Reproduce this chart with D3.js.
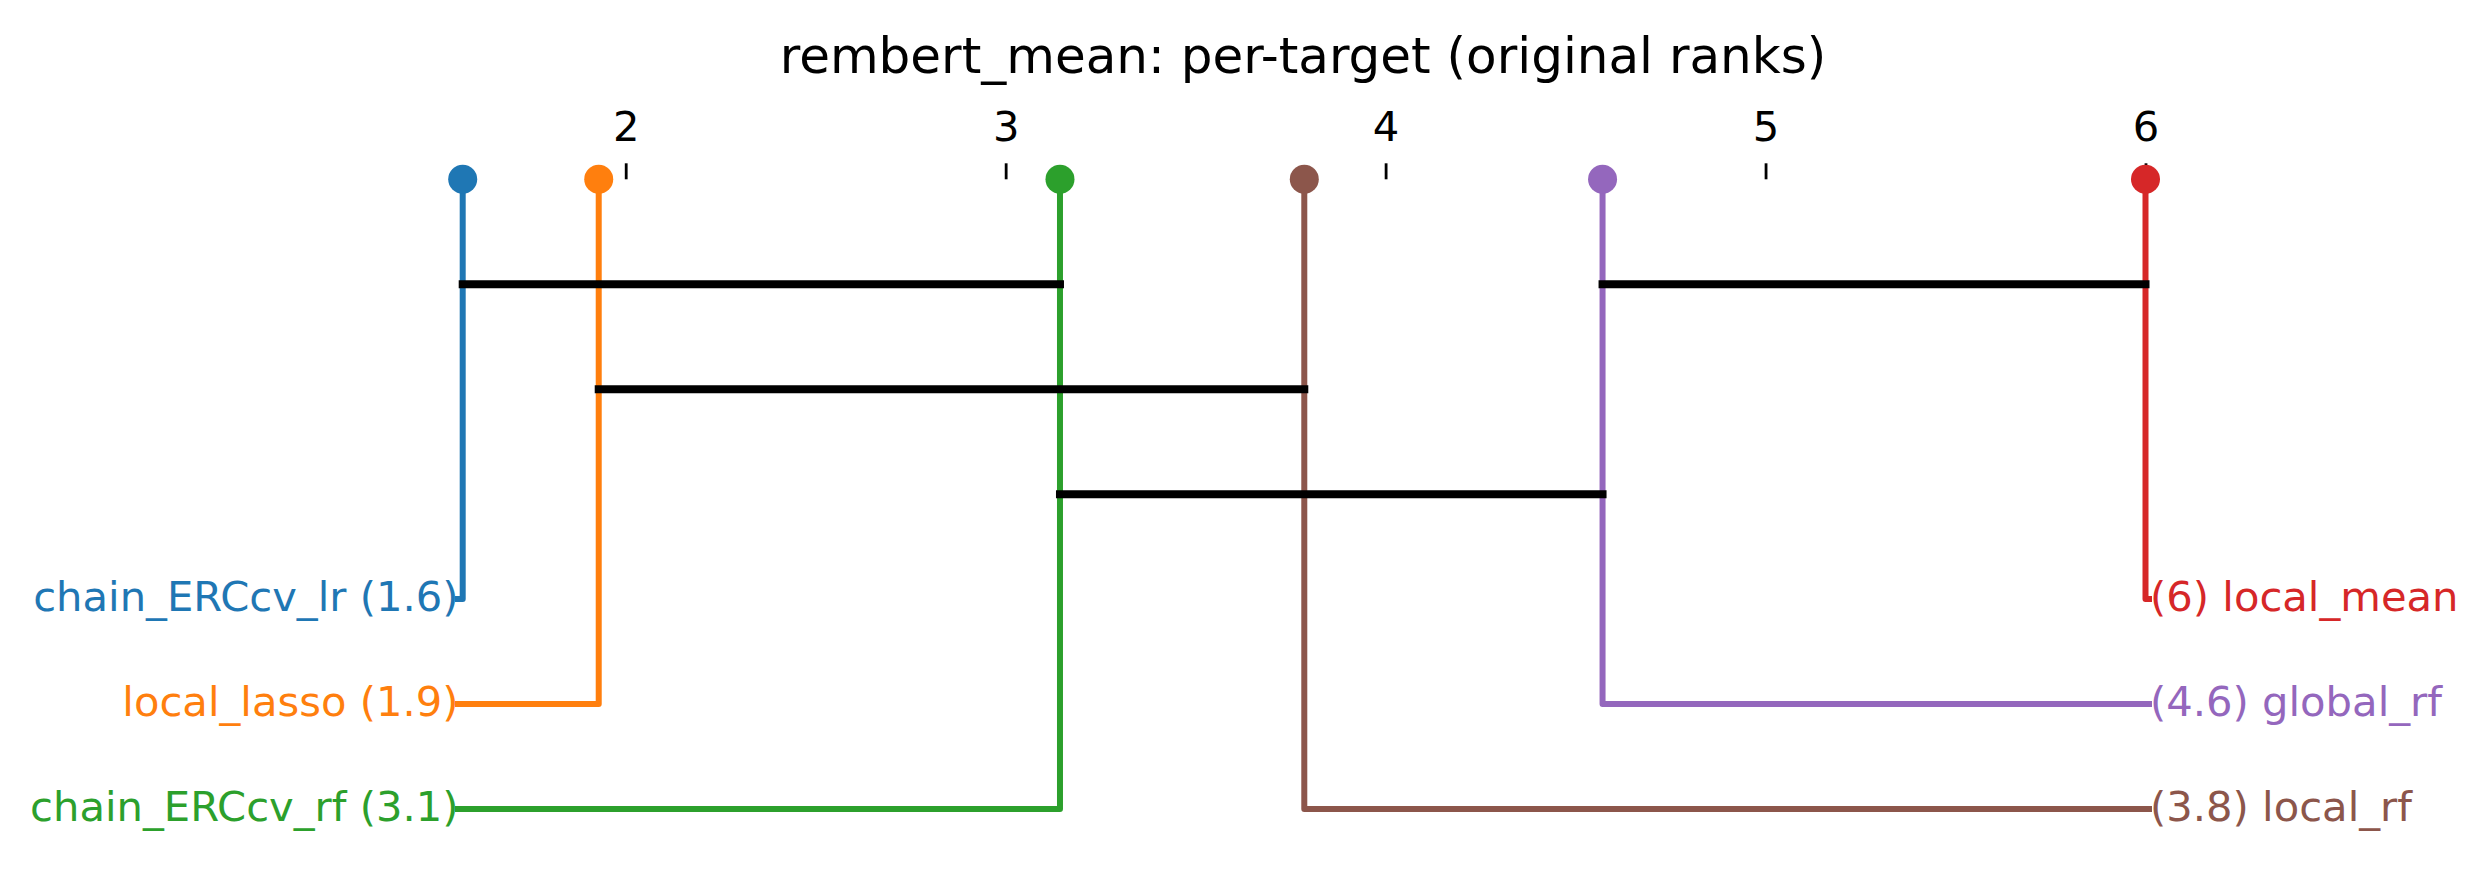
<!DOCTYPE html>
<html>
<head>
<meta charset="utf-8">
<script src="https://cdn.jsdelivr.net/npm/d3@7/dist/d3.min.js"></script>
<style>
  html, body { margin: 0; padding: 0; background: #fff; }
  svg { display: block; }
  text { font-family: "DejaVu Sans", sans-serif; }
</style>
</head>
<body>
<svg id="chart" width="2486" height="870"></svg>
<script>
// ---- data ----
const titleText = "rembert_mean: per-target (original ranks)";
const methods = ["chain_ERCcv_lr", "local_lasso", "chain_ERCcv_rf", "local_rf", "global_rf", "local_mean"];
const avgRanks = [1.571, 1.929, 3.143, 3.786, 4.571, 6.0];
const colors = ["#1f77b4", "#ff7f0e", "#2ca02c", "#8c564b", "#9467bd", "#d62728"];
const tickValues = [2, 3, 4, 5, 6];
// groups of methods not significantly different (connected by black bars)
const cliqueStart = ["chain_ERCcv_lr", "local_lasso", "chain_ERCcv_rf", "global_rf"];
const cliqueEnd   = ["chain_ERCcv_rf", "local_rf",    "global_rf",      "local_mean"];

// ---- layout ----
const svg = d3.select("#chart");
const x = d3.scaleLinear().domain([2, 6]).range([625.7, 2145.5]);
const y = d3.scaleLinear().domain([-1, 5]).range([179.3, 809]);
const fmt = d3.format(".2~g");
const rankOf = Object.fromEntries(methods.map((m, i) => [m, avgRanks[i]]));

// title
svg.append("text")
  .attr("x", 1303).attr("y", 73)
  .attr("text-anchor", "middle")
  .attr("font-size", 50)
  .attr("fill", "#000")
  .text(titleText);

// axis
const axis = d3.axisTop(x).tickValues(tickValues).tickSize(16).tickPadding(22).tickFormat(d3.format("d"));
const gAxis = svg.append("g").attr("transform", `translate(0,${y(-1)})`).call(axis);
gAxis.select(".domain").remove();
gAxis.selectAll(".tick line").attr("stroke", "#000").attr("stroke-width", 2.8);
gAxis.selectAll(".tick text").attr("font-size", 41.7).attr("fill", "#000")
  .attr("font-family", "DejaVu Sans, sans-serif");

// order methods by rank
const order = methods.map((m, i) => i).sort((a, b) => avgRanks[a] - avgRanks[b]);
const n = order.length;
const half = Math.ceil(n / 2);
const leftIdx = order.slice(0, half);
const rightIdx = order.slice(half).reverse(); // worst at top on right

// clique rows (greedy)
const cliques = cliqueStart.map((s, i) => ({ lo: rankOf[s], hi: rankOf[cliqueEnd[i]] }))
  .sort((a, b) => a.lo - b.lo);
const rowEnds = [];
cliques.forEach(c => {
  let r = rowEnds.findIndex(e => c.lo > e);
  if (r < 0) { r = rowEnds.length; rowEnds.push(c.hi); } else { rowEnds[r] = c.hi; }
  c.row = r;
});
const nRows = rowEnds.length;

const leftLineEnd = 458, leftTextX = 458.5;
const rightLineEnd = 2149, rightTextX = 2150;

const lineGen = d3.line();

// connector lines
const gLines = svg.append("g");
leftIdx.forEach((i, k) => {
  const row = nRows + k;
  gLines.append("path")
    .attr("d", lineGen([[x(avgRanks[i]), y(-1)], [x(avgRanks[i]), y(row)], [leftLineEnd, y(row)]]))
    .attr("fill", "none").attr("stroke", colors[i]).attr("stroke-width", 6)
    .attr("stroke-linecap", "square").attr("stroke-linejoin", "round");
  svg.append("text")
    .attr("x", leftTextX).attr("y", y(row)).attr("dy", "0.28em")
    .attr("text-anchor", "end").attr("font-size", 41.7).attr("fill", colors[i])
    .text(`${methods[i]} (${fmt(avgRanks[i])})`);
});
rightIdx.forEach((i, k) => {
  const row = nRows + k;
  gLines.append("path")
    .attr("d", lineGen([[x(avgRanks[i]), y(-1)], [x(avgRanks[i]), y(row)], [rightLineEnd, y(row)]]))
    .attr("fill", "none").attr("stroke", colors[i]).attr("stroke-width", 6)
    .attr("stroke-linecap", "square").attr("stroke-linejoin", "round");
  svg.append("text")
    .attr("x", rightTextX).attr("y", y(row)).attr("dy", "0.28em")
    .attr("text-anchor", "start").attr("font-size", 41.7).attr("fill", colors[i])
    .text(`(${fmt(avgRanks[i])}) ${methods[i]}`);
});

// clique bars
svg.append("g").selectAll("line").data(cliques).join("line")
  .attr("x1", d => x(d.lo)).attr("x2", d => x(d.hi))
  .attr("y1", d => y(d.row)).attr("y2", d => y(d.row))
  .attr("stroke", "#000").attr("stroke-width", 8).attr("stroke-linecap", "square");

// dots
svg.append("g").selectAll("circle").data(order).join("circle")
  .attr("cx", i => x(avgRanks[i])).attr("cy", y(-1)).attr("r", 14.5)
  .attr("fill", i => colors[i]);
</script>
</body>
</html>
